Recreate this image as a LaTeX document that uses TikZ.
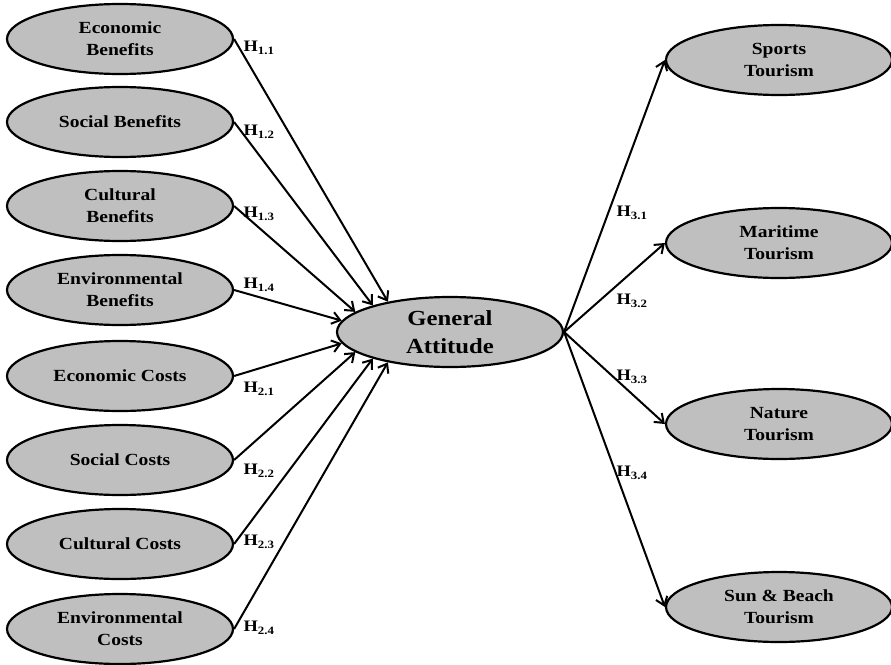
\documentclass[tikz,border=0pt]{standalone}
\usepackage{fontspec}
\setmainfont{Liberation Serif}[FakeStretch=1.15]
\usetikzlibrary{shapes.geometric,arrows.meta}
\definecolor{ovalfill}{RGB}{191,191,191}
\tikzset{
  construct/.style={ellipse, draw=black, line width=2.2pt, fill=ovalfill,
    minimum width=226pt, minimum height=70pt, inner sep=0pt, align=center,
    font=\bfseries\fontsize{17}{22}\selectfont},
  central/.style={construct, font=\bfseries\fontsize{21.5}{28}\selectfont},
  path/.style={line width=2pt, -{Straight Barb[length=8pt,width=12pt,line width=2pt]}},
  hyp/.style={inner sep=0pt, font=\bfseries\fontsize{16}{18}\selectfont}
}
\begin{document}
\begin{tikzpicture}[x=1pt,y=-1pt]
\useasboundingbox (0,0) rectangle (891,664);

% antecedents
\node[construct] (eb) at (120,39)  {Economic\\Benefits};
\node[construct] (sb) at (120,122) {Social Benefits};
\node[construct] (cb) at (120,206) {Cultural\\Benefits};
\node[construct] (nb) at (120,290) {Environmental\\Benefits};
\node[construct] (ec) at (120,376) {Economic Costs};
\node[construct] (sc) at (120,460) {Social Costs};
\node[construct] (cc) at (120,544) {Cultural Costs};
\node[construct] (nc) at (120,629) {Environmental\\Costs};

% central construct
\node[central] (ga) at (450,332) {General\\Attitude};

% outcomes
\node[construct] (st) at (779,60)  {Sports\\Tourism};
\node[construct] (mt) at (779,243) {Maritime\\Tourism};
\node[construct] (nt) at (779,424) {Nature\\Tourism};
\node[construct] (bt) at (779,607) {Sun \& Beach\\Tourism};

% hypothesised paths
\draw[path] (eb.east) -- (ga.154);
\draw[path] (sb.east) -- (ga.161);
\draw[path] (cb.east) -- (ga.168);
\draw[path] (nb.east) -- (ga.174);
\draw[path] (ec.east) -- (ga.186);
\draw[path] (sc.east) -- (ga.192);
\draw[path] (cc.east) -- (ga.199);
\draw[path] (nc.east) -- (ga.206);

\draw[path] (ga.east) -- (st.west);
\draw[path] (ga.east) -- (mt.west);
\draw[path] (ga.east) -- (nt.west);
\draw[path] (ga.east) -- (bt.west);

% path labels
\node[hyp] (h11) at (259,48)  {H\textsubscript{1.1}};
\node[hyp] (h12) at (259,132) {H\textsubscript{1.2}};
\node[hyp] (h13) at (259,214) {H\textsubscript{1.3}};
\node[hyp] (h14) at (259,285) {H\textsubscript{1.4}};
\node[hyp] (h21) at (259,389) {H\textsubscript{2.1}};
\node[hyp] (h22) at (259,471) {H\textsubscript{2.2}};
\node[hyp] (h23) at (259,542) {H\textsubscript{2.3}};
\node[hyp] (h24) at (259,628) {H\textsubscript{2.4}};

\node[hyp] (h31) at (632,213) {H\textsubscript{3.1}};
\node[hyp] (h32) at (632,301) {H\textsubscript{3.2}};
\node[hyp] (h33) at (632,377) {H\textsubscript{3.3}};
\node[hyp] (h34) at (632,473) {H\textsubscript{3.4}};
\end{tikzpicture}
\end{document}
